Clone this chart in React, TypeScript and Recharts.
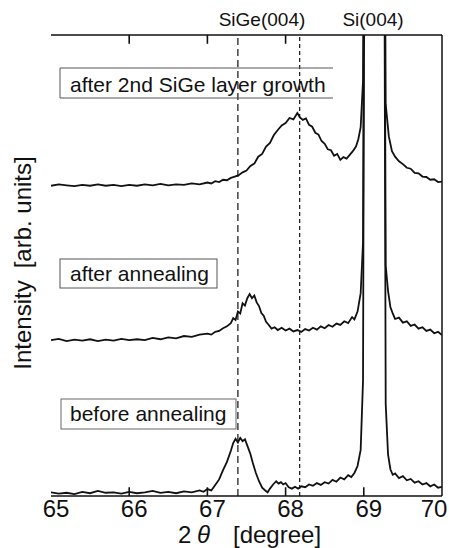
import { LineChart, Line, XAxis, YAxis, ReferenceLine } from "recharts";

// 2θ positions (degree) and intensities (arb. units, curves stacked with offsets)
const beforeAngle = [
  65.0, 65.1, 65.2, 65.3, 65.4, 65.5, 65.6, 65.7, 65.8, 65.9, 66.0, 66.1, 66.2, 66.3, 66.4, 66.5,
  66.6, 66.7, 66.8, 66.9, 66.95, 67.0, 67.05, 67.1, 67.15, 67.2, 67.25, 67.3, 67.33, 67.36, 67.39,
  67.42, 67.45, 67.48, 67.52, 67.55, 67.58, 67.62, 67.66, 67.7, 67.74, 67.77, 67.8, 67.84, 67.88,
  67.91, 67.94, 67.97, 68.0, 68.04, 68.08, 68.12, 68.16, 68.2, 68.25, 68.3, 68.35, 68.4, 68.45,
  68.5, 68.55, 68.6, 68.65, 68.7, 68.75, 68.8, 68.84, 68.88, 68.92, 68.96, 68.99, 69.02, 69.25,
  69.28, 69.31, 69.34, 69.37, 69.4, 69.45, 69.5, 69.55, 69.6, 69.65, 69.7, 69.75, 69.8, 69.85,
  69.9, 69.95, 70.0,
];
const beforeIntensity = [
  0.8, 0.5, 0.7, 0.4, 0.9, 0.6, 1.1, 0.7, 0.8, 0.5, 0.9, 0.6, 0.8, 1.1, 0.7, 0.9,
  0.6, 1.0, 0.8, 1.2, 0.9, 1.5, 1.2, 2.4, 3.6, 5.6, 7.4, 9.8, 11.5, 12.4, 11.6,
  12.6, 11.9, 12.3, 10.5, 9.1, 7.2, 5.0, 3.2, 1.8, 1.2, 0.8, 1.6, 2.5, 3.2,
  2.7, 3.0, 2.5, 2.8, 1.9, 1.6, 2.0, 1.6, 2.1, 1.9, 2.5, 2.2, 2.8, 2.4,
  3.0, 2.7, 3.5, 3.1, 4.0, 3.6, 4.5, 4.1, 5.0, 6.5, 10, 25, 200, 200,
  20, 9, 5.8, 4.6, 4.9, 3.9, 4.3, 3.4, 3.7, 2.9, 3.2, 2.5, 2.8, 2.1,
  2.5, 1.8, 2.0,
];

const annealAngle = [
  65.0, 65.1, 65.2, 65.3, 65.4, 65.5, 65.6, 65.7, 65.8, 65.9, 66.0, 66.1, 66.2, 66.3, 66.4, 66.5,
  66.6, 66.7, 66.8, 66.9, 67.0, 67.05, 67.1, 67.15, 67.2, 67.25, 67.3, 67.33, 67.36, 67.39, 67.42,
  67.45, 67.48, 67.51, 67.54, 67.57, 67.6, 67.63, 67.66, 67.69, 67.72, 67.75, 67.78, 67.82, 67.86,
  67.9, 67.95, 68.0, 68.05, 68.1, 68.15, 68.2, 68.25, 68.3, 68.35, 68.4, 68.45, 68.5, 68.55, 68.6,
  68.65, 68.7, 68.75, 68.8, 68.85, 68.88, 68.92, 68.96, 68.99, 69.02, 69.25, 69.28, 69.31, 69.34,
  69.37, 69.4, 69.45, 69.5, 69.55, 69.6, 69.65, 69.7, 69.75, 69.8, 69.85, 69.9, 69.95, 70.0,
];
const annealIntensity = [
  33.8, 34.1, 33.6, 33.9, 33.7, 34.0, 33.6, 33.9, 33.7, 34.1, 33.8, 34.0, 33.8, 34.3, 34.0, 34.4,
  34.2, 34.7, 34.5, 35.0, 35.2, 35.0, 35.6, 35.8, 36.4, 36.8, 37.5, 38.6, 38.2, 40.0, 39.6,
  41.8, 41.3, 42.9, 43.8, 42.9, 43.5, 42.0, 41.2, 39.7, 39.1, 37.8, 37.2, 36.3, 36.6,
  36.0, 36.5, 35.9, 36.3, 35.7, 36.0, 35.6, 36.2, 35.9, 36.5, 36.1, 36.8, 36.4, 37.1, 36.7,
  37.4, 37.1, 37.9, 37.5, 38.8, 38.3, 40, 44, 55, 200, 200, 50, 44.5, 41,
  39.6, 38.4, 38.7, 37.6, 37.9, 36.9, 37.2, 36.3, 36.6, 35.8, 36.1, 35.3, 35.6, 34.9,
];

const growthAngle = [
  65.0, 65.1, 65.2, 65.3, 65.4, 65.5, 65.6, 65.7, 65.8, 65.9, 66.0, 66.1, 66.2, 66.3, 66.4, 66.5,
  66.6, 66.7, 66.8, 66.9, 67.0, 67.05, 67.1, 67.15, 67.2, 67.25, 67.3, 67.35, 67.4, 67.45, 67.5,
  67.55, 67.6, 67.65, 67.7, 67.75, 67.8, 67.85, 67.9, 67.95, 68.0, 68.05, 68.1, 68.15, 68.18,
  68.22, 68.26, 68.3, 68.34, 68.38, 68.42, 68.46, 68.5, 68.54, 68.58, 68.62, 68.66, 68.7, 68.74,
  68.78, 68.82, 68.86, 68.9, 68.93, 68.96, 68.99, 69.02, 69.25, 69.28, 69.32, 69.36, 69.4, 69.45,
  69.5, 69.55, 69.6, 69.65, 69.7, 69.75, 69.8, 69.85, 69.9, 69.95, 70.0,
];
const growthIntensity = [
  67.3, 67.6, 67.4, 67.2, 67.5, 67.3, 67.6, 67.3, 67.5, 67.2, 67.5, 67.3, 67.6, 67.4, 67.7, 67.4,
  67.6, 67.5, 67.8, 67.6, 68.0, 67.8, 68.3, 68.1, 68.6, 68.5, 69.0, 69.3, 69.6, 70.2, 70.6,
  71.6, 72.1, 73.6, 74.2, 75.8, 76.6, 78.3, 79.4, 80.4, 80.9, 82.0, 81.7, 83.1, 82.2,
  81.6, 81.9, 80.5, 80.1, 78.8, 78.4, 77.0, 76.4, 75.2, 75.0, 73.8, 74.2, 72.9, 73.5,
  73.2, 74.0, 74.8, 75.8, 77.4, 80, 90, 200, 200, 85, 78, 74.8, 73.6, 72.6,
  72.0, 71.2, 71.0, 70.1, 70.0, 69.3, 69.2, 68.6, 68.7, 68.1, 68.2,
];

const xTicks = [65, 66, 67, 68, 69, 70];
const innerTicks = [66, 67, 68, 69];
const sigePeak = 67.39;
const sigeRelaxed = 68.18;
const yMin = 0;
const yMax = 100;

const toPoints = (xs: number[], ys: number[]) => xs.map((x, i) => ({ x, y: ys[i] }));

const FONT = "'Liberation Sans', Arial, Helvetica, sans-serif";
const AXIS = { stroke: "#111", strokeWidth: 1.5 };
// inward tick length in y-axis units (plot is ~461 px tall for 100 units)
const TICK_LEN = 1.9;

function BottomTick({ x, y, payload }: any) {
  const v = payload.value;
  const dx = v === 70 ? -8 : 5;
  return (
    <text x={x + dx} y={y + 21} textAnchor="middle" fontSize={24} fontFamily={FONT} fill="#111">
      {v}
    </text>
  );
}

export default function App() {
  return (
    <div style={{ position: "absolute", left: 0, top: 0, width: 449, height: 548, background: "#fff" }}>
      <LineChart width={449} height={548} margin={{ top: 25, right: 7, bottom: 0, left: 51 }}>
        <XAxis
          xAxisId="bottom"
          type="number"
          dataKey="x"
          domain={[65, 70]}
          ticks={xTicks}
          interval={0}
          allowDataOverflow
          height={52}
          tickSize={0}
          tickMargin={0}
          tickLine={false}
          tick={<BottomTick />}
          axisLine={AXIS}
        />
        <XAxis
          xAxisId="top"
          orientation="top"
          type="number"
          dataKey="x"
          domain={[65, 70]}
          ticks={xTicks}
          allowDataOverflow
          height={10}
          tickLine={false}
          tick={false}
          axisLine={AXIS}
        />
        <YAxis
          yAxisId="left"
          type="number"
          domain={[yMin, yMax]}
          allowDataOverflow
          width={0}
          tick={false}
          tickLine={false}
          axisLine={AXIS}
        />
        <ReferenceLine xAxisId="bottom" yAxisId="left" x={70} stroke="#111" strokeWidth={1.5} />
        {innerTicks.map((t) => (
          <ReferenceLine
            key={`b${t}`}
            xAxisId="bottom"
            yAxisId="left"
            segment={[{ x: t, y: yMin }, { x: t, y: yMin + TICK_LEN }]}
            stroke="#111"
            strokeWidth={1.6}
          />
        ))}
        {innerTicks.map((t) => (
          <ReferenceLine
            key={`t${t}`}
            xAxisId="bottom"
            yAxisId="left"
            segment={[{ x: t, y: yMax }, { x: t, y: yMax - TICK_LEN }]}
            stroke="#111"
            strokeWidth={1.6}
          />
        ))}
        <ReferenceLine xAxisId="bottom" yAxisId="left" x={sigePeak} stroke="#111" strokeWidth={1.2} strokeDasharray="7 4" />
        <ReferenceLine xAxisId="bottom" yAxisId="left" x={sigeRelaxed} stroke="#111" strokeWidth={1.2} strokeDasharray="4 3" />
        <Line
          xAxisId="bottom"
          yAxisId="left"
          data={toPoints(beforeAngle, beforeIntensity)}
          dataKey="y"
          type="linear"
          stroke="#111"
          strokeWidth={1.8}
          dot={false}
          isAnimationActive={false}
        />
        <Line
          xAxisId="bottom"
          yAxisId="left"
          data={toPoints(annealAngle, annealIntensity)}
          dataKey="y"
          type="linear"
          stroke="#111"
          strokeWidth={1.8}
          dot={false}
          isAnimationActive={false}
        />
        <Line
          xAxisId="top"
          yAxisId="left"
          data={toPoints(growthAngle, growthIntensity)}
          dataKey="y"
          type="linear"
          stroke="#111"
          strokeWidth={1.8}
          dot={false}
          isAnimationActive={false}
        />
      </LineChart>

      <svg
        width={449}
        height={548}
        style={{ position: "absolute", left: 0, top: 0, pointerEvents: "none" }}
        fontFamily={FONT}
        fill="#111"
      >
        <text x={262} y={26} fontSize={19} textAnchor="middle">SiGe(004)</text>
        <text x={373} y={26} fontSize={19} textAnchor="middle">Si(004)</text>

        <path d="M333,68 H60 V98 H333" fill="none" stroke="#555" strokeWidth={1} />
        <text x={70} y={92} fontSize={21}>after 2nd SiGe layer growth</text>

        <rect x={60} y={259} width={157} height={29} fill="none" stroke="#555" strokeWidth={1} />
        <text x={70} y={281} fontSize={21}>after annealing</text>

        <rect x={61} y={399} width={175} height={30} fill="none" stroke="#666" strokeWidth={1} />
        <text x={70} y={421} fontSize={21}>before annealing</text>

        <text x={31} y={263} fontSize={24} textAnchor="middle" transform="rotate(-90 31 263)">
          Intensity
          <tspan dx={12}>[arb. units]</tspan>
        </text>

        <text x={178} y={543} fontSize={24}>
          2
          <tspan x={197} fontStyle="italic">θ</tspan>
          <tspan x={233}>[degree]</tspan>
        </text>
      </svg>
    </div>
  );
}
